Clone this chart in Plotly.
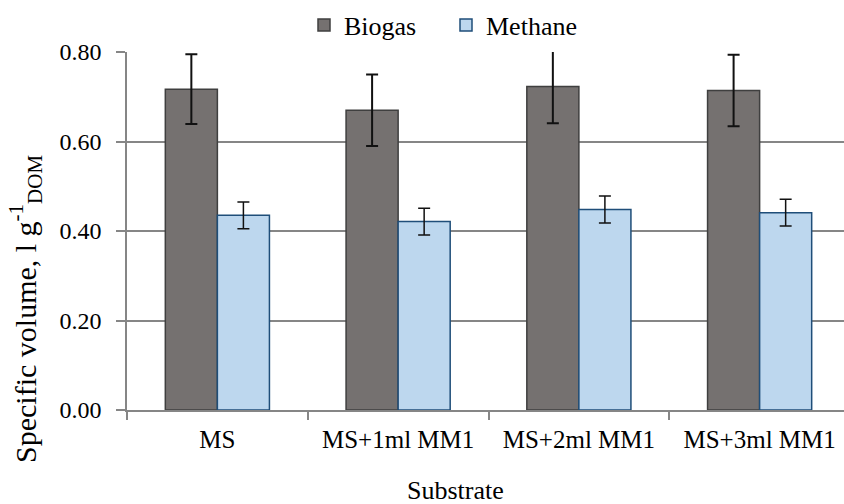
import plotly.graph_objects as go

categories = ["MS", "MS+1ml MM1", "MS+2ml MM1", "MS+3ml MM1"]
biogas = [0.717, 0.670, 0.723, 0.714]
biogas_err = [0.078, 0.080, 0.082, 0.080]
methane = [0.435, 0.421, 0.448, 0.441]
methane_err = [0.030, 0.030, 0.030, 0.030]
y_ticks = [0.0, 0.2, 0.4, 0.6, 0.8]
y_tick_labels = ["0.00", "0.20", "0.40", "0.60", "0.80"]

FONT = "Liberation Serif, Times New Roman, serif"

fig = go.Figure()
fig.add_trace(go.Bar(
    name="Biogas", x=categories, y=biogas,
    marker=dict(color="#757170", line=dict(color="#3f3f3f", width=1.5)),
    error_y=dict(type="data", array=biogas_err, color="#111111", thickness=2, width=6),
))
fig.add_trace(go.Bar(
    name="Methane", x=categories, y=methane,
    marker=dict(color="#bdd7ee", line=dict(color="#1f4e79", width=1.5)),
    error_y=dict(type="data", array=methane_err, color="#111111", thickness=1.5, width=6),
))

fig.update_layout(
    width=844, height=504,
    margin=dict(l=127, r=0, t=52, b=94, autoexpand=False),
    paper_bgcolor="white", plot_bgcolor="white",
    barmode="group", bargap=0.424, bargroupgap=0,
    font=dict(family=FONT, color="black"),
    showlegend=True,
    legend=dict(orientation="h", x=(318 - 127 - 14) / 717, xanchor="left",
                y=(410 - 25) / 358, yanchor="middle",
                font=dict(size=26, family=FONT), itemwidth=30,
                entrywidth=97, entrywidthmode="pixels", traceorder="normal"),
    annotations=[
        dict(text="Specific volume, l g<sup>-1</sup><sub>DOM</sub>", xref="paper", yref="paper",
             x=(25 - 127) / 717, y=(410 - 309) / 358, textangle=-90, showarrow=False,
             xanchor="center", yanchor="middle", font=dict(size=30, family=FONT)),
        dict(text="Substrate", xref="paper", yref="paper",
             x=(455 - 127) / 717, y=(410 - 490) / 358, showarrow=False,
             xanchor="center", yanchor="middle", font=dict(size=26, family=FONT)),
    ],
)
fig.update_xaxes(
    type="category", range=[-0.5, 3.5 - 6 / 180.7],
    showline=True, linecolor="#868686", linewidth=1.5,
    ticks="outside", tickson="boundaries", ticklen=8, tickcolor="#868686", tickwidth=1.5,
    tickfont=dict(size=25, family=FONT), ticklabelstandoff=6,
    showgrid=False, automargin=False,
)
fig.update_yaxes(
    range=[0, 0.8], tickvals=y_ticks, ticktext=y_tick_labels,
    showline=True, linecolor="#868686", linewidth=1.5,
    ticks="outside", ticklen=9, tickcolor="#868686", tickwidth=1.5,
    tickfont=dict(size=24, family=FONT), ticklabelstandoff=10,
    showgrid=True, gridcolor="#868686", gridwidth=1.5,
    zeroline=False, automargin=False,
)

fig.write_html("out.html", config={"displayModeBar": False},
               post_script="document.body.style.margin='0';")
